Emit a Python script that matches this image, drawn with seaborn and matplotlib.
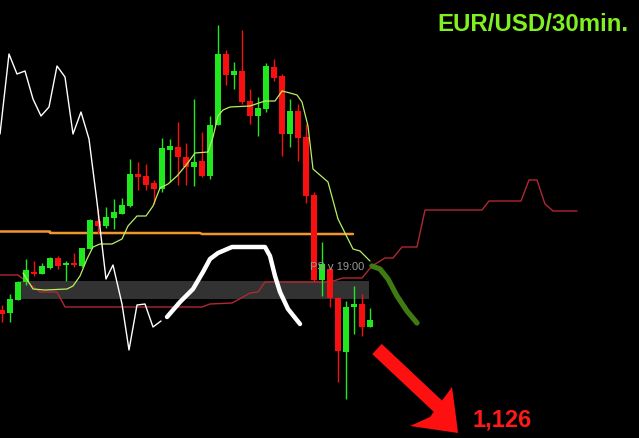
import matplotlib
matplotlib.use("Agg")
import matplotlib.pyplot as plt
import numpy as np
import seaborn as sns

# candles (screen units, y grows downward)
opens = [311, 314, 301, 283, 273, 275, 269, 259, 266, 264, 267, 250, 222, 227, 219, 215,
         207, 175, 177, 184, 190, 151, 148, 158, 168, 162, 177, 126, 55, 76, 72, 102,
         117, 110, 68, 77, 135, 112, 138, 196, 281, 270, 299, 353, 308, 305, 328]
closes = [315, 300, 283, 271, 275, 267, 259, 267, 264, 266, 249, 221, 227, 218, 213, 206,
          175, 178, 186, 190, 149, 147, 158, 168, 163, 177, 126, 55, 76, 72, 103, 117,
          109, 67, 79, 135, 112, 139, 197, 281, 265, 299, 352, 308, 305, 328, 321]
highs = [306, 295, 282, 260, 262, 264, 258, 257, 262, 254, 249, 220, 210, 208, 200, 199,
         160, 163, 165, 181, 139, 140, 123, 144, 100, 133, 117, 26, 51, 63, 31, 90,
         98, 64, 60, 75, 100, 105, 125, 193, 243, 268, 298, 302, 287, 295, 309]
lows = [323, 323, 301, 286, 277, 275, 270, 270, 282, 268, 268, 250, 235, 229, 230, 215,
        208, 191, 191, 205, 193, 183, 186, 186, 187, 178, 180, 126, 86, 90, 105, 125,
        137, 113, 82, 157, 148, 162, 204, 283, 297, 308, 383, 400, 335, 337, 328]

# indicator lines
tenkan_x = [23, 33, 45, 67, 73, 80, 87, 93, 100, 112, 122, 128, 137, 146, 153, 160, 168,
            177, 187, 195, 208, 213, 218, 223, 230, 250, 265, 275, 282, 290, 297, 302,
            308, 313, 328, 338, 353, 360, 370]
tenkan_y = [274, 290, 291, 290, 287, 277, 260, 248, 245, 245, 240, 227, 217, 217, 207, 189,
            185, 177, 165, 154, 153, 138, 117, 111, 108, 107, 102, 102, 92, 94, 96, 103,
            127, 170, 183, 220, 250, 252, 262]

kumo_x = [0, 18, 40, 57, 65, 202, 210, 232, 243, 250, 258, 265, 330, 343, 362, 372, 385,
          393, 402, 417, 425, 482, 489, 521, 529, 537, 545, 553, 577]
kumo_y = [276, 276, 293, 293, 308, 308, 305, 304, 298, 294, 293, 283, 283, 279, 279, 267,
          259, 259, 248, 248, 211, 211, 202, 202, 181, 181, 205, 212, 212]

chikou_x = [0, 9, 17, 25, 33, 41, 49, 57, 65, 73, 81, 89, 97, 106, 113, 122, 129, 137,
            145, 153, 161]
chikou_y = [135, 55, 75, 72, 100, 117, 108, 67, 78, 135, 113, 140, 203, 280, 266, 305, 351,
            306, 305, 328, 322]

level_x = [0, 50, 50, 200, 202, 353]
level_y = [232.5, 232.5, 234, 234, 235, 235]

# hand drawn marks
arch_x = [167, 180, 193, 203, 210, 218, 232, 265, 270, 275, 280, 288, 300]
arch_y = [318, 303, 290, 273, 260, 254, 248, 248, 257, 277, 293, 310, 325]
path_x = [372, 380, 388, 397, 407, 417]
path_y = [267, 270, 280, 297, 312, 324]
shaft_x = [377, 443]
shaft_y = [350, 412]
head_x = [410, 430, 452, 455, 458]
head_y = [427, 418, 388, 410, 434]

sns.set_style("dark", {"axes.facecolor": "black", "figure.facecolor": "black"})
plt.rcParams["font.family"] = ["Liberation Sans", "DejaVu Sans"]

fig = plt.figure(figsize=(6.39, 4.39), dpi=100)
ax = fig.add_axes([0, 0, 1, 1])
ax.set_facecolor("black")

xs = 1.5 + 8 * np.arange(len(opens))
o = np.array(opens)
c = np.array(closes)
up = c < o
cols = np.where(up, "#1fe81f", "#f81010")

# gray zone
ax.fill_between([20, 369], 282, 300, color="#323232", zorder=1, lw=0)

ax.vlines(xs, highs, lows, colors=cols, lw=1.0, zorder=3)
ax.bar(xs, c - o, bottom=o, width=6, color=cols, lw=0, zorder=4)

sns.lineplot(x=kumo_x, y=kumo_y, sort=False, estimator=None, ax=ax,
             color="#b02832", lw=1.0, zorder=2)
sns.lineplot(x=level_x, y=level_y, sort=False, estimator=None, ax=ax,
             color="#f0962a", lw=1.8, zorder=2)
sns.lineplot(x=tenkan_x, y=tenkan_y, sort=False, estimator=None, ax=ax,
             color="#b8f060", lw=0.9, zorder=5)
sns.lineplot(x=chikou_x, y=chikou_y, sort=False, estimator=None, ax=ax,
             color="white", lw=1.0, zorder=5)

ax.plot(arch_x, arch_y, color="white", lw=3.2, solid_capstyle="round",
        solid_joinstyle="round", zorder=6)
ax.plot(path_x, path_y, color="#3f7a12", lw=3.8, solid_capstyle="round",
        solid_joinstyle="round", zorder=6)
ax.plot(shaft_x, shaft_y, color="#ff1010", lw=10, solid_capstyle="butt", zorder=6)
ax.fill(head_x, head_y, color="#ff1010", lw=0, zorder=6)

ax.text(310, 267, "PS v 19:00", color="#9a9a9a", fontsize=8, va="center", zorder=7)
ax.text(437, 31, "EUR/USD/30min.", color="#80f020", fontsize=17.3, fontweight="bold",
        va="baseline")
ax.text(472, 427, "1,126", color="#ff1a1a", fontsize=17, fontweight="bold",
        va="baseline")

ax.set_xlim(0, 639)
ax.set_ylim(439, 0)
ax.axis("off")
fig.savefig("out.png", dpi=100, facecolor="black")
